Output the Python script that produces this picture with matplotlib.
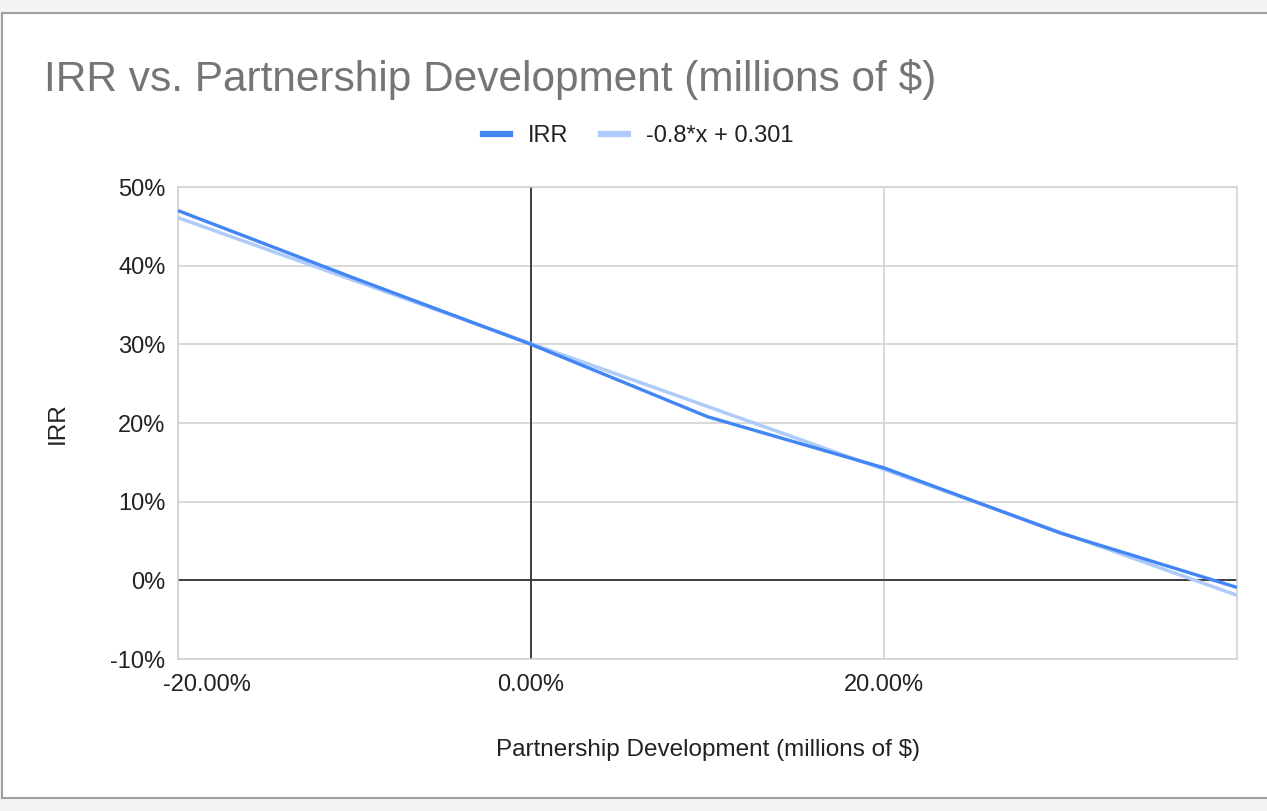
import numpy as np
import matplotlib
matplotlib.use("Agg")
import matplotlib.pyplot as plt
from matplotlib.patches import Rectangle
from matplotlib.lines import Line2D
from matplotlib.ticker import FuncFormatter
import matplotlib.transforms as mtransforms

plt.rcParams["font.family"] = ["Liberation Sans", "DejaVu Sans"]

# data
dev = [-0.20, -0.10, 0.00, 0.10, 0.20, 0.30, 0.40]
irr = [0.470, 0.384, 0.300, 0.208, 0.143, 0.060, -0.009]

# linear trendline reported in the legend
slope = -0.8
intercept = 0.301
trend_label = "-0.8*x + 0.301"

x_ticks = [-0.20, 0.00, 0.20]
y_ticks = [-0.10, 0.0, 0.10, 0.20, 0.30, 0.40, 0.50]

BLUE = "#4285f4"
LIGHT_BLUE = "#aecbfa"
GRID = "#d0d0d0"
TEXT = "#222222"

W, H = 1267, 811
fig = plt.figure(figsize=(W / 100, H / 100), dpi=100)
fig.patch.set_facecolor("#f3f3f3")

# white chart card with a thin grey border, kept behind the axes
card = Rectangle((2, 13), W, 785, transform=None, facecolor="white",
                 edgecolor="#9e9e9e", linewidth=1.5, zorder=-10)
fig.patches.append(card)

ax = fig.add_axes([178 / W, 1 - 659 / H, (1237 - 178) / W, (659 - 187) / H])
ax.set_facecolor("white")

x = np.array(dev)
trend = slope * x + intercept
ax.plot(x, trend, color=LIGHT_BLUE, linewidth=2.5, solid_capstyle="butt", zorder=3)
ax.plot(x, irr, color=BLUE, linewidth=2.4, solid_capstyle="butt", zorder=4)

ax.set_xlim(-0.20, 0.40)
ax.set_ylim(-0.10, 0.50)
ax.set_xticks(x_ticks)
ax.set_yticks(y_ticks)
ax.xaxis.set_major_formatter(FuncFormatter(lambda v, p: f"{v * 100:.2f}%"))
ax.yaxis.set_major_formatter(FuncFormatter(lambda v, p: f"{v * 100:.0f}%"))

ax.grid(True, color=GRID, linewidth=1.1, zorder=1)
ax.axhline(0, color="#333333", linewidth=1.3, zorder=2)
ax.axvline(0, color="#333333", linewidth=1.3, zorder=2)
for s in ax.spines.values():
    s.set_color(GRID)
    s.set_linewidth(1.1)

ax.tick_params(axis="both", length=0, labelsize=17, labelcolor=TEXT)
ax.tick_params(axis="x", pad=11)
ax.tick_params(axis="y", pad=9)

# first x label sits inside the chart instead of centred on its tick
first = ax.get_xticklabels()[0]
first.set_transform(first.get_transform() +
                    mtransforms.ScaledTranslation(29 / 100, 0, fig.dpi_scale_trans))

ax.set_xlabel("Partnership Development (millions of $)", fontsize=17.5,
              color=TEXT, labelpad=31)
ax.set_ylabel("IRR", fontsize=17.5, color=TEXT, labelpad=30)

fig.text(44 / W, 1 - 91 / H, "IRR vs. Partnership Development (millions of $)",
         fontsize=30.5, color="#757575", ha="left", va="baseline")

handles = [Line2D([], [], color=BLUE, linewidth=4.5),
           Line2D([], [], color=LIGHT_BLUE, linewidth=4.5)]
fig.legend(handles, ["IRR", trend_label], loc="center",
           bbox_to_anchor=(638 / W, 1 - 136 / H), ncol=2, frameon=False,
           fontsize=17, labelcolor=TEXT, handlelength=1.15,
           handletextpad=0.75, columnspacing=1.4)

fig.savefig("out.png", dpi=100, facecolor=fig.get_facecolor())
